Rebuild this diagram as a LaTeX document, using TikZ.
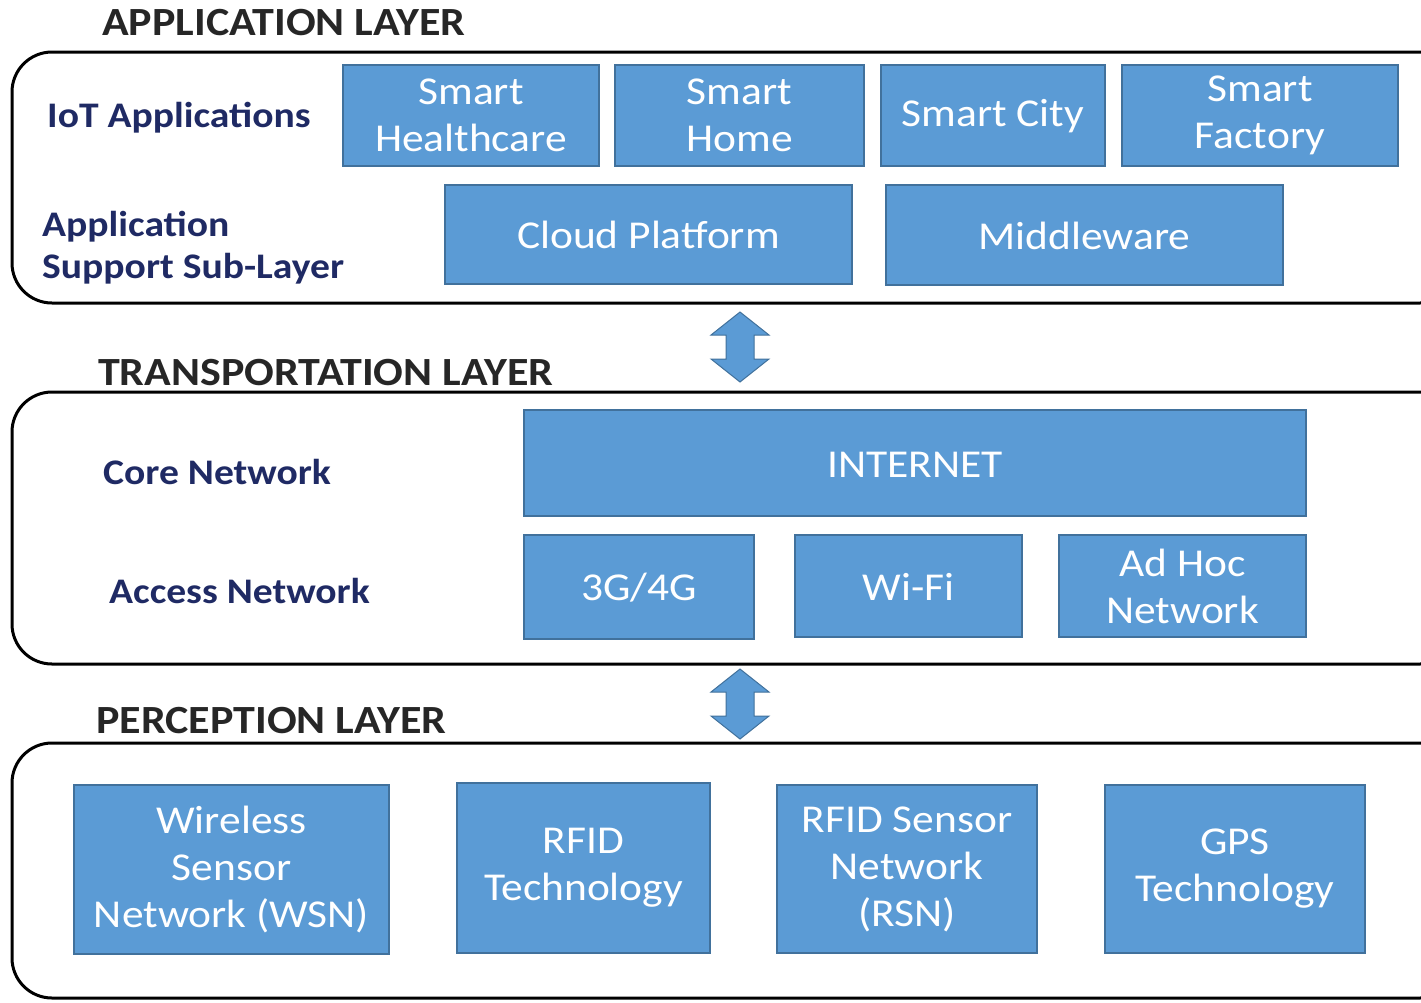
\documentclass[tikz,border=0pt]{standalone}
\usepackage{fontspec}
\setmainfont{Carlito}[FakeStretch=1.1]
\usetikzlibrary{positioning}

\definecolor{boxfill}{RGB}{91,155,213}
\definecolor{boxedge}{RGB}{65,113,156}
\definecolor{navy}{RGB}{31,42,100}
\definecolor{heading}{RGB}{38,38,38}

\tikzset{
  layerbox/.style={draw=black, line width=3pt, rounded corners=40pt},
  blk/.style={draw=boxedge, fill=boxfill, line width=1.5pt, inner sep=0pt,
    text=white, align=center, font=\fontsize{39.5}{47}\selectfont,
    execute at begin node={\rule{0pt}{29pt}}},
  heading/.style={anchor=west, inner sep=0pt, text=heading,
    font=\fontsize{40}{44}\selectfont\bfseries},
  sublabel/.style={anchor=west, inner sep=0pt, text=navy, align=left,
    font=\fontsize{36}{42}\selectfont\bfseries},
  arrowshape/.style={draw=boxedge, fill=boxfill, line width=1pt, line join=miter},
  updown/.pic={
    \path[arrowshape] (0,-35) -- (29,-12) -- (14,-12) -- (14,12) -- (29,12)
      -- (0,35) -- (-29,12) -- (-14,12) -- (-14,-12) -- (-29,-12) -- cycle;
  }
}

\begin{document}
\begin{tikzpicture}[x=1pt, y=-1pt]
\useasboundingbox (0,0) rectangle (1421,1002);
\clip (0,0) rectangle (1421,1002);

% ---------- Application layer ----------
\node[heading] (apphead) at (102,23) {APPLICATION LAYER};
\draw[layerbox] (12,52) rectangle (1460,303);
\node[sublabel] (iotapps) at (47,118) {IoT Applications};
\node[sublabel] (appsupport) at (42,248) {Application\\Support Sub-Layer};

\node[blk, minimum width=256pt, minimum height=101pt] (health) at (471,115.5) {Smart\\Healthcare};
\node[blk, minimum width=249pt, minimum height=101pt] (home) at (739.5,115.5) {Smart\\Home};
\node[blk, minimum width=224pt, minimum height=101pt] (city) at (993,115.5) {Smart City};
\node[blk, minimum width=276pt, minimum height=101pt] (factory) at (1260,115.5) {Smart\\Factory};
\node[blk, minimum width=407pt, minimum height=99pt] (cloud) at (648.5,234.5) {Cloud Platform};
\node[blk, minimum width=397pt, minimum height=100pt] (middleware) at (1084.5,235) {Middleware};

% ---------- arrow between application and transportation ----------
\pic at (740,347) {updown};

% ---------- Transportation layer ----------
\node[heading] (transhead) at (98,373) {TRANSPORTATION LAYER};
\draw[layerbox] (12,392) rectangle (1460,664);
\node[sublabel] (core) at (103,472) {Core Network};
\node[sublabel] (access) at (109,591) {Access Network};

\node[blk, minimum width=782pt, minimum height=106pt] (internet) at (915,463) {INTERNET};
\node[blk, minimum width=230pt, minimum height=104pt] (cell) at (639,587) {3G/4G};
\node[blk, minimum width=227pt, minimum height=102pt] (wifi) at (908.5,586) {Wi-Fi};
\node[blk, minimum width=247pt, minimum height=102pt] (adhoc) at (1182.5,586) {Ad Hoc\\Network};

% ---------- arrow between transportation and perception ----------
\pic at (740,704) {updown};

% ---------- Perception layer ----------
\node[heading] (perchead) at (96,721) {PERCEPTION LAYER};
\draw[layerbox] (12,743) rectangle (1460,998);

\node[blk, minimum width=315pt, minimum height=169pt] (wsn) at (231.5,869.5) {Wireless\\Sensor\\Network (WSN)};
\node[blk, minimum width=253pt, minimum height=170pt] (rfid) at (583.5,868) {RFID\\Technology};
\node[blk, minimum width=260pt, minimum height=168pt] (rsn) at (907,869) {RFID Sensor\\Network\\(RSN)};
\node[blk, minimum width=260pt, minimum height=168pt] (gps) at (1235,869) {GPS\\Technology};
\end{tikzpicture}
\end{document}
